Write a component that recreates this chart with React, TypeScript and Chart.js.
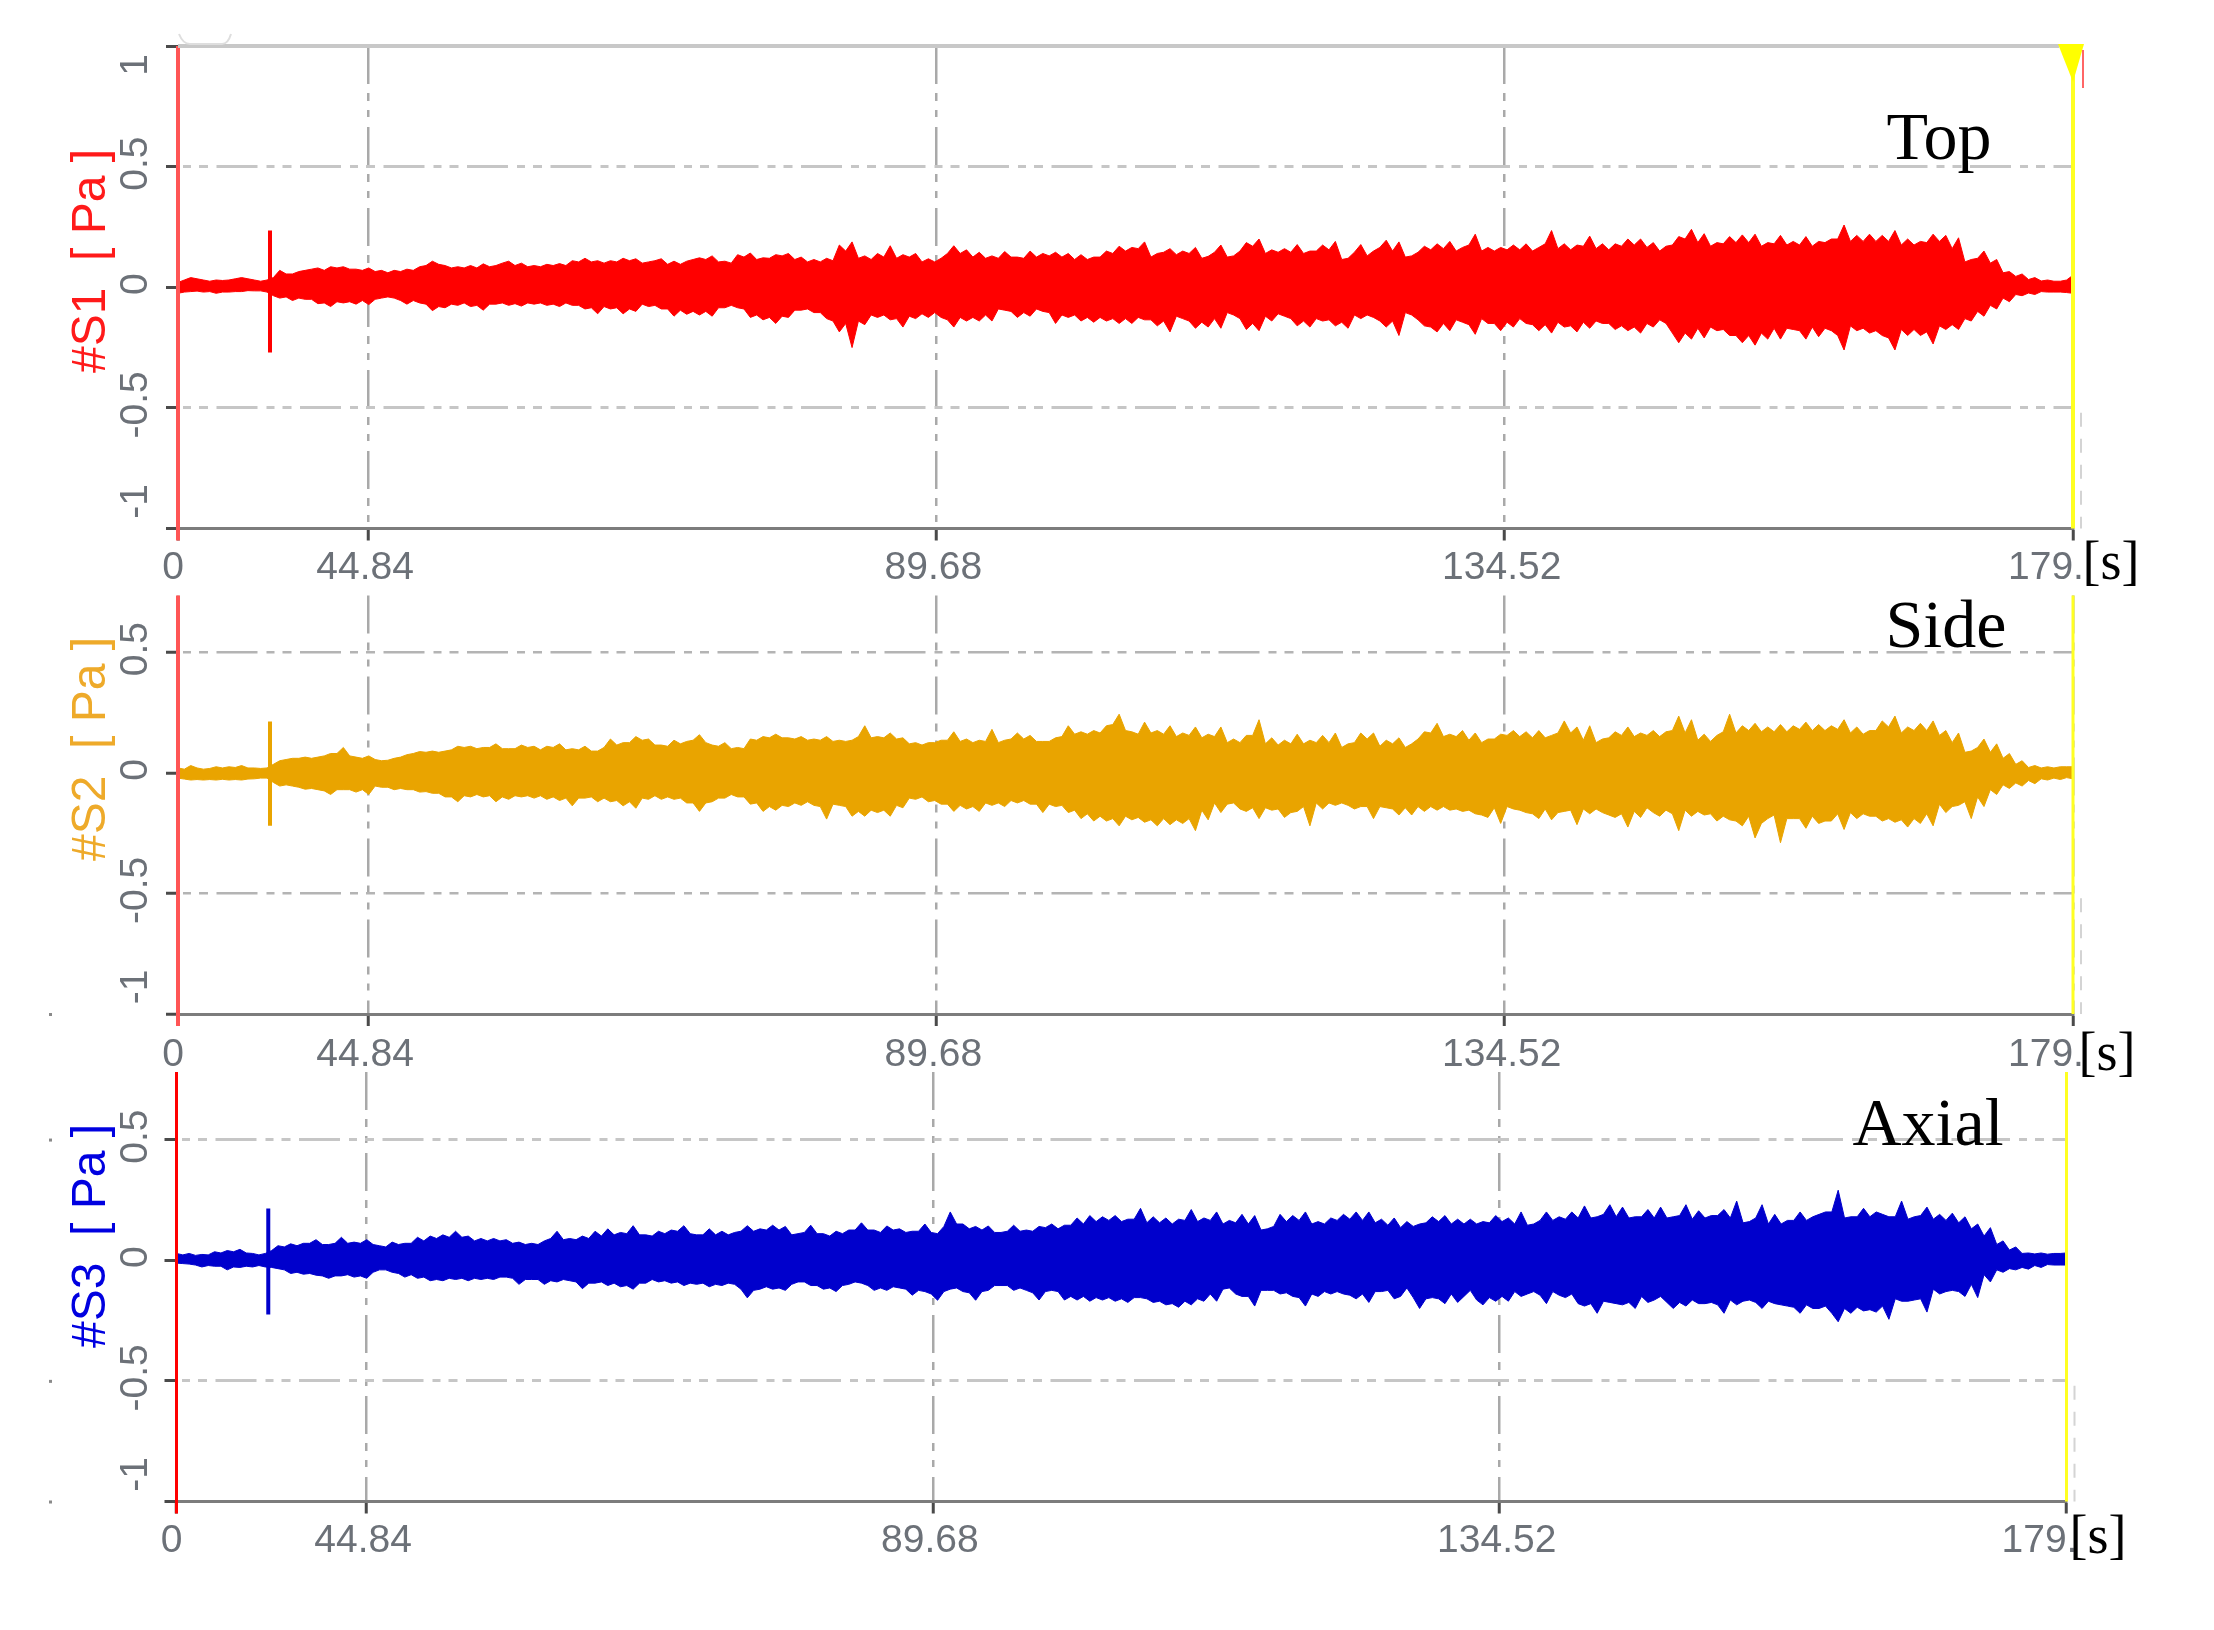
import React, { useEffect, useRef } from 'react';
import Chart from 'chart.js/auto';

// values: upper and lower envelope of each trace, one reading per sample step
const hiS1 = [
  .02, .04, .03, .03, .03, .04, .03, .03, .07, .055, .07, .08, .085, .085, .075, .08, .07, .07, .075, .085,
  .108, .09, .085, .09, .097, .09, .108, .1, .09, .095, .098, .11, .12, .11, .11, .12, .118, .105, .118, .108,
  .108, .122, .13, .108, .135, .142, .122, .135, .14, .125, .115, .12, .175, .188, .13, .14, .172, .135, .14, .118,
  .12, .172, .155, .145, .13, .148, .125, .15, .14, .145, .14, .135, .125, .15, .17,
  .165, .188, .14, .16, .15, .165, .128, .175, .13, .185, .2, .155, .16, .177, .15, .175, .19, .12, .177, .15,
  .195, .188, .13, .17, .18, .19, .165, .22, .165, .165, .175, .18, .165, .235, .18, .175, .212, .18, .18, .2,
  .2, .185, .17, .21, .24, .222, .185, .21, .217, .22, .185, .215, .19, .21, .19, .2, .258, .215, .22, .215,
  .235, .2, .19, .22, .215, .205, .115, .15, .115, .065, .055, .04, .03, .025, .05,
];
const loS1 = [
  -.025, -.018, -.02, -.025, -.02, -.018, -.015, -.02, -.045, -.055, -.05, -.068, -.08, -.065, -.07, -.072, -.045, -.045, -.07, -.065,
  -.097, -.085, -.075, -.08, -.095, -.07, -.075, -.078, -.07, -.075, -.08, -.075, -.09, -.11, -.09, -.11, -.1, -.08, -.09, -.12,
  -.112, -.115, -.12, -.085, -.085, -.125, -.135, -.15, -.125, -.095, -.105, -.13, -.185, -.25, -.155, -.125, -.135, -.165, -.13, -.125,
  -.125, -.165, -.14, -.14, -.14, -.095, -.125, -.12, -.1, -.15, -.125, -.14, -.145, -.14, -.15,
  -.15, -.135, -.16, -.185, -.13, -.17, -.165, -.17, -.115, -.175, -.18, -.14, -.12, -.16, -.165, -.14, -.16, -.17, -.13, -.125,
  -.165, -.2, -.115, -.16, -.185, -.18, -.145, -.195, -.15, -.18, -.165, -.15, -.18, -.19, -.165, -.185, -.17, -.15, -.175, -.18,
  -.19, -.165, -.15, -.23, -.215, -.21, -.18, -.2, -.23, -.24, -.215, -.215, -.175, -.215, -.205, -.18, -.26, -.18, -.19, -.2,
  -.26, -.2, -.2, -.235, -.175, -.175, -.14, -.12, -.09, -.06, -.035, -.03, -.02, -.02, -.025,
];
const hiS2 = [
  .02, .03, .015, .025, .025, .03, .02, .02, .05, .06, .065, .065, .08, .105, .065, .07, .05, .06, .075, .088,
  .09, .09, .11, .11, .105, .12, .1, .115, .11, .11, .12, .1, .11, .09, .14, .125, .15, .14, .115, .135,
  .13, .158, .115, .125, .105, .14, .15, .16, .145, .15, .14, .15, .135, .135, .195, .15, .165, .145, .125, .125,
  .135, .17, .14, .135, .18, .135, .165, .155, .13, .145, .195, .17, .175, .195, .243,
  .17, .21, .175, .195, .165, .19, .16, .19, .14, .155, .22, .145, .135, .16, .135, .155, .165, .12, .165, .165,
  .135, .145, .12, .17, .205, .16, .175, .165, .14, .16, .175, .17, .175, .155, .215, .19, .195, .14, .17, .19,
  .165, .175, .17, .235, .22, .16, .155, .243, .195, .205, .19, .2, .195, .21, .2, .195, .22, .19, .175, .215,
  .235, .19, .205, .215, .175, .165, .09, .14, .12, .08, .05, .03, .025, .025, .025,
];
const loS2 = [
  -.022, -.03, -.03, -.03, -.03, -.03, -.025, -.022, -.055, -.055, -.068, -.07, -.09, -.07, -.08, -.09, -.06, -.07, -.07, -.08,
  -.085, -.1, -.12, -.1, -.1, -.12, -.11, -.1, -.105, -.11, -.115, -.137, -.105, -.12, -.12, -.137, -.147, -.11, -.11, -.11,
  -.125, -.16, -.12, -.105, -.1, -.13, -.16, -.155, -.14, -.135, -.135, -.192, -.135, -.18, -.18, -.165, -.18, -.145, -.11, -.12,
  -.13, -.16, -.15, -.16, -.135, -.14, -.125, -.13, -.165, -.14, -.165, -.19, -.2, -.2, -.22,
  -.195, -.205, -.22, -.215, -.21, -.24, -.195, -.165, -.125, -.16, -.19, -.155, -.185, -.16, -.22, -.15, -.135, -.135, -.14, -.19,
  -.145, -.175, -.175, -.16, -.155, -.155, -.16, -.17, -.185, -.21, -.15, -.165, -.19, -.195, -.16, -.215, -.17, -.165, -.185, -.225,
  -.185, -.165, -.155, -.24, -.18, -.175, -.2, -.195, -.22, -.27, -.19, -.29, -.19, -.23, -.21, -.2, -.235, -.19, -.18, -.2,
  -.205, -.225, -.21, -.22, -.165, -.135, -.19, -.14, -.09, -.065, -.055, -.045, -.03, -.028, -.025,
];
const hiS3 = [
  .028, .028, .024, .035, .04, .045, .028, .028, .06, .068, .07, .085, .065, .095, .075, .085, .06, .075, .07, .095,
  .1, .105, .12, .1, .09, .09, .085, .075, .07, .08, .12, .09, .1, .12, .13, .115, .143, .105, .12, .125,
  .143, .105, .13, .12, .115, .143, .13, .145, .14, .11, .145, .11, .12, .125, .155, .125, .142, .13, .12, .15,
  .11, .2, .15, .14, .142, .115, .145, .125, .14, .15, .145, .175, .185, .18, .185,
  .17, .215, .18, .175, .17, .21, .175, .2, .165, .19, .185, .13, .19, .185, .2, .16, .175, .19, .2, .2,
  .17, .175, .16, .15, .18, .185, .17, .17, .16, .185, .175, .2, .15, .2, .18, .2, .225, .18, .23, .22,
  .18, .21, .22, .18, .23, .205, .185, .21, .245, .16, .23, .19, .165, .2, .18, .2, .29, .18, .215, .2,
  .18, .245, .18, .22, .19, .195, .18, .15, .135, .08, .055, .03, .03, .028, .03,
];
const loS3 = [
  -.012, -.016, -.028, -.025, -.04, -.03, -.028, -.028, -.035, -.055, -.058, -.062, -.075, -.065, -.07, -.075, -.04, -.05, -.07, -.075,
  -.085, -.085, -.08, -.085, -.08, -.08, -.07, -.1, -.08, -.1, -.09, -.085, -.118, -.095, -.105, -.11, -.12, -.095, -.09, -.095,
  -.105, -.1, -.11, -.105, -.1, -.156, -.12, -.12, -.125, -.09, -.105, -.12, -.13, -.1, -.095, -.125, -.125, -.115, -.145, -.13,
  -.166, -.12, -.13, -.166, -.125, -.105, -.125, -.125, -.165, -.125, -.165, -.165, -.17, -.165, -.17,
  -.175, -.155, -.175, -.185, -.195, -.185, -.17, -.17, -.115, -.15, -.19, -.125, -.14, -.15, -.19, -.15, -.14, -.14, -.16, -.175,
  -.13, -.16, -.115, -.2, -.155, -.18, -.175, -.125, -.185, -.17, -.17, -.15, -.13, -.18, -.145, -.14, -.19, -.22, -.175, -.185,
  -.2, -.175, -.15, -.2, -.19, -.18, -.175, -.22, -.185, -.165, -.2, -.18, -.19, -.22, -.2, -.19, -.255, -.22, -.21, -.215,
  -.245, -.17, -.165, -.215, -.14, -.125, -.15, -.155, -.09, -.05, -.04, -.037, -.03, -.02, -.02,
];

// readings half way between the samples above, where the envelope mostly dips
const hiS1Mid = [
  .03, .035, .025, .028, .035, .035, .025, .04, .055, .065, .075, .07, .08, .075, .07, .065, .06, .065, .07, .09,
  .095, .08, .08, .08, .085, .1, .09, .085, .085, .09, .09, .105, .105, .1, .105, .11, .1, .11, .095, .095,
  .115, .115, .105, .1, .125, .115, .12, .13, .115, .105, .105, .11, .15, .12, .115, .125, .12, .125, .105, .105,
  .14, .14, .125, .12, .12, .125, .12, .125, .13, .125, .115, .115, .125, .14,
  .15, .16, .125, .145, .135, .14, .12, .145, .125, .15, .17, .14, .145, .145, .14, .15, .155, .115, .145, .13,
  .165, .15, .125, .145, .155, .16, .15, .175, .15, .15, .155, .155, .15, .18, .16, .155, .17, .16, .155, .17,
  .175, .165, .15, .175, .2, .185, .17, .18, .185, .185, .17, .18, .175, .175, .17, .185, .2, .19, .19, .19,
  .19, .175, .175, .185, .19, .16, .105, .12, .1, .06, .045, .032, .026, .025, .03,
];
const loS1Mid = [
  -.02, -.016, -.018, -.02, -.018, -.014, -.015, -.035, -.04, -.045, -.05, -.065, -.06, -.06, -.055, -.05, -.04, -.055, -.055, -.07,
  -.08, -.07, -.065, -.075, -.07, -.065, -.068, -.065, -.065, -.07, -.065, -.075, -.085, -.08, -.085, -.09, -.07, -.075, -.09, -.095,
  -.1, -.1, -.085, -.075, -.09, -.115, -.125, -.12, -.095, -.09, -.105, -.14, -.15, -.14, -.115, -.115, -.13, -.12, -.11, -.105,
  -.135, -.125, -.125, -.115, -.09, -.1, -.105, -.09, -.105, -.115, -.115, -.125, -.125, -.13,
  -.13, -.125, -.135, -.14, -.12, -.14, -.145, -.13, -.105, -.13, -.15, -.12, -.11, -.13, -.14, -.13, -.135, -.145, -.115, -.115,
  -.14, -.14, -.105, -.135, -.165, -.15, -.135, -.155, -.13, -.15, -.145, -.13, -.155, -.155, -.145, -.16, -.145, -.14, -.15, -.16,
  -.165, -.15, -.135, -.19, -.19, -.17, -.165, -.175, -.2, -.2, -.19, -.17, -.17, -.18, -.165, -.17, -.2, -.16, -.17, -.18,
  -.21, -.175, -.175, -.185, -.16, -.155, -.13, -.1, -.075, -.045, -.03, -.024, -.018, -.02, -.022,
];
const hiS2Mid = [
  .015, .02, .018, .02, .022, .02, .018, .035, .055, .06, .06, .07, .08, .07, .06, .055, .052, .065, .08, .085,
  .085, .095, .105, .1, .105, .1, .1, .105, .095, .105, .095, .095, .09, .105, .115, .125, .135, .115, .11, .12,
  .135, .125, .11, .1, .1, .135, .145, .145, .14, .135, .135, .13, .13, .15, .145, .145, .14, .12, .115, .125,
  .135, .13, .125, .13, .125, .14, .14, .13, .13, .15, .16, .16, .165, .2,
  .175, .16, .165, .16, .15, .155, .145, .15, .125, .125, .155, .12, .115, .12, .12, .125, .125, .105, .125, .14,
  .11, .12, .105, .14, .165, .15, .15, .135, .125, .14, .155, .15, .145, .145, .165, .165, .135, .125, .145, .155,
  .15, .155, .15, .175, .165, .135, .13, .17, .165, .175, .17, .17, .17, .18, .175, .175, .18, .165, .16, .175,
  .19, .165, .175, .175, .155, .125, .085, .105, .085, .06, .035, .022, .02, .02, .025,
];
const loS2Mid = [
  -.026, -.028, -.028, -.027, -.028, -.026, -.022, -.04, -.05, -.06, -.065, -.075, -.07, -.07, -.07, -.055, -.06, -.065, -.07, -.078,
  -.085, -.1, -.095, -.09, -.095, -.1, -.095, -.095, -.095, -.1, -.105, -.105, -.1, -.105, -.115, -.12, -.105, -.095, -.1, -.105,
  -.125, -.125, -.105, -.09, -.1, -.125, -.14, -.135, -.125, -.12, -.14, -.13, -.14, -.16, -.155, -.155, -.135, -.105, -.1, -.115,
  -.13, -.135, -.14, -.125, -.125, -.115, -.115, -.13, -.13, -.135, -.155, -.17, -.18, -.19,
  -.18, -.185, -.195, -.19, -.195, -.19, -.155, -.125, -.13, -.15, -.145, -.145, -.15, -.165, -.14, -.125, -.125, -.125, -.15, -.14,
  -.14, -.15, -.145, -.14, -.14, -.14, -.15, -.155, -.175, -.145, -.14, -.155, -.17, -.15, -.165, -.155, -.15, -.15, -.175, -.17,
  -.16, -.145, -.18, -.17, -.155, -.16, -.17, -.18, -.2, -.18, -.21, -.175, -.19, -.19, -.18, -.2, -.17, -.165, -.17, -.18,
  -.19, -.195, -.19, -.17, -.13, -.14, -.12, -.1, -.07, -.05, -.042, -.032, -.025, -.022, -.02,
];
const hiS3Mid = [
  .022, .02, .022, .03, .035, .03, .022, .04, .055, .06, .07, .065, .07, .07, .07, .065, .055, .065, .07, .08,
  .09, .095, .095, .08, .08, .08, .07, .065, .065, .09, .085, .085, .09, .1, .105, .11, .105, .1, .11, .12,
  .11, .105, .105, .105, .12, .12, .125, .125, .105, .115, .11, .1, .11, .125, .125, .115, .125, .115, .12, .115,
  .14, .15, .13, .125, .115, .12, .12, .12, .135, .13, .145, .15, .16, .165,
  .16, .17, .155, .155, .15, .165, .16, .165, .15, .155, .15, .125, .14, .16, .165, .15, .15, .165, .17, .165,
  .155, .145, .135, .14, .155, .16, .15, .15, .15, .155, .16, .15, .145, .165, .165, .17, .175, .175, .19, .18,
  .175, .18, .175, .175, .185, .17, .175, .185, .175, .155, .175, .15, .15, .165, .165, .19, .2, .175, .18, .18,
  .19, .18, .17, .185, .17, .165, .155, .13, .1, .065, .042, .028, .026, .025, .028,
];
const loS3Mid = [
  -.014, -.02, -.022, -.025, -.028, -.025, -.022, -.03, -.04, -.05, -.055, -.065, -.065, -.06, -.065, -.05, -.04, -.055, -.06, -.07,
  -.08, -.075, -.075, -.075, -.075, -.07, -.075, -.08, -.08, -.085, -.08, -.09, -.095, -.09, -.095, -.105, -.095, -.08, -.085, -.09,
  -.095, -.095, -.1, -.095, -.12, -.125, -.11, -.115, -.1, -.09, -.105, -.115, -.105, -.09, -.105, -.115, -.11, -.12, -.125, -.14,
  -.13, -.115, -.135, -.13, -.105, -.105, -.115, -.135, -.13, -.13, -.15, -.15, -.155, -.155,
  -.16, -.155, -.16, -.17, -.18, -.17, -.16, -.14, -.12, -.14, -.15, -.125, -.125, -.135, -.155, -.14, -.13, -.13, -.145, -.14,
  -.13, -.125, -.15, -.155, -.16, -.16, -.14, -.15, -.165, -.155, -.15, -.13, -.14, -.145, -.13, -.155, -.18, -.18, -.17, -.18,
  -.175, -.15, -.165, -.175, -.175, -.165, -.18, -.185, -.165, -.17, -.175, -.17, -.185, -.195, -.185, -.2, -.22, -.2, -.195, -.205,
  -.19, -.16, -.17, -.16, -.12, -.13, -.13, -.1, -.06, -.04, -.035, -.03, -.022, -.018, -.02,
];

// short burst just after the start, same moment in all three traces
const burstTime = 37.1;
const burstS1 = [0.235, -0.27];
const burstS2 = [0.213, -0.22];
const burstS3 = [0.214, -0.225];

// the printed "0" sits closer to 44.84 than the tick spacing would give, so the axis starts here
const axisStart = 29.84;
const axisEnd = 179.36;
const timeTicks = [29.84, 44.84, 89.68, 134.52, 179.36];
const timeLabels = ['0', '44.84', '89.68', '134.52', '179.'];
const pressureTicks = [-1, -0.5, 0, 0.5, 1];
const pressureLabels = ['-1', '-0.5', '0', '0.5', '1'];

const W = 2214;
const H = 1630;
const Y_AXIS_W = 20;
const X_AXIS_H = 20;

const panels = [
  {
    title: '#S1  [ Pa ]', titleColor: '#ff1a1a', traceColor: '#ff0000', hi: hiS1, hiMid: hiS1Mid, lo: loS1, loMid: loS1Mid, burst: burstS1,
    left: 178, right: 2073, top: 46, bottom: 528.5, yMax: 1, labelGap: 40,
    note: 'Top', noteX: 1939, noteY: 159, unitX: 2111, unitY: 565, titleY: 261,
    cursorColor: '#ff5555', cursorWidth: 4, yellowWidth: 4, gridColor: '#c6c6c6', gridWidth: 3, marker: true, strayTicks: [] as number[],
  },
  {
    title: '#S2  [ Pa ]', titleColor: '#eeaa2a', traceColor: '#e9a400', hi: hiS2, hiMid: hiS2Mid, lo: loS2, loMid: loS2Mid, burst: burstS2,
    left: 178, right: 2073, top: 595.5, bottom: 1014, yMax: 0.735, labelGap: 41,
    note: 'Side', noteX: 1946, noteY: 647, unitX: 2107, unitY: 1056, titleY: 749,
    cursorColor: '#ff5555', cursorWidth: 4, yellowWidth: 3, gridColor: '#b4b4b4', gridWidth: 2.5, marker: false, strayTicks: [-1],
  },
  {
    title: '#S3  [ Pa ]', titleColor: '#0000e0', traceColor: '#0000cc', hi: hiS3, hiMid: hiS3Mid, lo: loS3, loMid: loS3Mid, burst: burstS3,
    left: 176.5, right: 2066.5, top: 1072, bottom: 1501.5, yMax: 0.78, labelGap: 40,
    note: 'Axial', noteX: 1928, noteY: 1145, unitX: 2098, unitY: 1539, titleY: 1236,
    cursorColor: '#ff0000', cursorWidth: 3, yellowWidth: 3, gridColor: '#c6c6c6', gridWidth: 3, marker: false, strayTicks: [0.5, -0.5, -1],
  },
];

// weave the sample readings and the half-way readings into one evenly spaced trace
const toPoints = (values: number[], mid: number[]) => {
  const woven = values.flatMap((v, i) => (i < mid.length ? [v, mid[i]] : [v]));
  const step = (axisEnd - axisStart) / (woven.length - 1);
  return woven.map((y, i) => ({ x: axisStart + i * step, y }));
};

const TICK_FONT = '39px "Liberation Sans"';
const TICK_COLOR = '#6c7178';

function rotatedText(ctx: CanvasRenderingContext2D, text: string, x: number, y: number) {
  ctx.save();
  ctx.translate(x, y);
  ctx.rotate(-Math.PI / 2);
  ctx.fillText(text, 0, 0);
  ctx.restore();
}

function buildDecorPlugin(p: typeof panels[number]) {
  return {
    id: 'panelDecor',
    afterDatasetsDraw(chart: any) {
      const { ctx, scales, chartArea } = chart;
      const { left, right, top, bottom } = chartArea;
      ctx.save();

      // measuring cursors at both ends
      ctx.setLineDash([]);
      ctx.strokeStyle = p.cursorColor;
      ctx.lineWidth = p.cursorWidth;
      ctx.beginPath();
      ctx.moveTo(left, top);
      ctx.lineTo(left, bottom + 12);
      ctx.stroke();
      ctx.strokeStyle = '#ffff22';
      ctx.lineWidth = p.yellowWidth;
      ctx.beginPath();
      ctx.moveTo(right, top);
      ctx.lineTo(right, bottom);
      ctx.stroke();

      // faint leftovers next to the right cursor
      ctx.strokeStyle = '#d4d4d4';
      ctx.lineWidth = 2;
      ctx.setLineDash([14, 12]);
      ctx.beginPath();
      ctx.moveTo(right + 8, scales.y.getPixelForValue(-0.52));
      ctx.lineTo(right + 8, bottom);
      ctx.stroke();
      ctx.setLineDash([]);

      // specks left over at the far left of the lower panels
      ctx.fillStyle = '#8a8a8a';
      p.strayTicks.forEach((value) => {
        ctx.fillRect(49, scales.y.getPixelForValue(value) - 1, 3, 3);
      });

      if (p.marker) {
        ctx.strokeStyle = '#c8c8c8';
        ctx.lineWidth = 4;
        ctx.beginPath();
        ctx.moveTo(left, top);
        ctx.lineTo(right - 14, top);
        ctx.stroke();
        ctx.fillStyle = '#ffff00';
        ctx.beginPath();
        ctx.moveTo(right - 15, top - 2);
        ctx.lineTo(right + 11, top - 2);
        ctx.lineTo(right, top + 36);
        ctx.closePath();
        ctx.fill();
        ctx.strokeStyle = '#ff6666';
        ctx.lineWidth = 2;
        ctx.beginPath();
        ctx.moveTo(right + 10, top + 4);
        ctx.lineTo(right + 10, top + 42);
        ctx.stroke();
        ctx.strokeStyle = '#dedede';
        ctx.lineWidth = 2;
        ctx.beginPath();
        ctx.moveTo(left + 1, top - 12);
        ctx.quadraticCurveTo(left + 5, top - 2, left + 12, top - 2);
        ctx.lineTo(left + 44, top - 2);
        ctx.quadraticCurveTo(left + 50, top - 2, left + 53, top - 12);
        ctx.stroke();
      }

      ctx.textAlign = 'center';
      ctx.textBaseline = 'middle';

      // axis numbers
      ctx.font = TICK_FONT;
      ctx.fillStyle = TICK_COLOR;
      pressureTicks.forEach((value, i) => {
        if (value > p.yMax) return;
        const nudge = value === 1 ? 19 : value === -1 ? -27 : -3;
        rotatedText(ctx, pressureLabels[i], 136, scales.y.getPixelForValue(value) + nudge);
      });
      timeTicks.forEach((value, i) => {
        const nudge = i === 0 ? -5 : i === timeTicks.length - 1 ? -27 : -3;
        ctx.fillText(timeLabels[i], scales.x.getPixelForValue(value) + nudge, bottom + p.labelGap);
      });

      // channel name
      ctx.font = '48px "Liberation Sans"';
      ctx.fillStyle = p.titleColor;
      rotatedText(ctx, p.title, 92, p.titleY);

      // pasted-in labels
      ctx.fillStyle = '#000000';
      ctx.font = '68px "Liberation Serif"';
      ctx.textBaseline = 'alphabetic';
      ctx.fillText(p.note, p.noteX, p.noteY);
      ctx.font = '54px "Liberation Serif"';
      ctx.textBaseline = 'middle';
      ctx.fillText('[s]', p.unitX, p.unitY);
      ctx.restore();
    },
  };
}

function TracePanel({ panel }: { panel: typeof panels[number] }) {
  const canvasRef = useRef<HTMLCanvasElement>(null);

  useEffect(() => {
    if (!canvasRef.current) return;
    const chart = new Chart(canvasRef.current, {
      type: 'line',
      data: {
        datasets: [
          {
            data: toPoints(panel.hi, panel.hiMid),
            borderColor: panel.traceColor,
            borderWidth: 1,
            pointRadius: 0,
            fill: false,
          },
          {
            data: toPoints(panel.lo, panel.loMid),
            borderColor: panel.traceColor,
            borderWidth: 1,
            pointRadius: 0,
            backgroundColor: panel.traceColor,
            fill: '-1',
          },
          {
            data: panel.burst.map((y) => ({ x: burstTime, y })),
            borderColor: panel.traceColor,
            borderWidth: 4,
            pointRadius: 0,
            fill: false,
          },
        ],
      },
      options: {
        responsive: false,
        animation: false,
        devicePixelRatio: 1,
        layout: {
          padding: {
            left: panel.left - Y_AXIS_W,
            right: W - panel.right,
            top: panel.top,
            bottom: H - panel.bottom - X_AXIS_H,
          },
        },
        plugins: {
          legend: { display: false },
          tooltip: { enabled: false },
        },
        scales: {
          x: {
            type: 'linear',
            min: axisStart,
            max: axisEnd,
            afterBuildTicks: (scale: any) => {
              scale.ticks = timeTicks.map((value) => ({ value }));
            },
            afterFit: (scale: any) => {
              scale.height = X_AXIS_H;
            },
            ticks: { display: false },
            border: { display: true, color: '#7c7c7c', width: 3, dash: [38, 9, 8, 9, 7, 10] },
            grid: {
              color: '#a9a9a9',
              lineWidth: 2.5,
              tickColor: '#4a4a4a',
              tickLength: 12,
              tickWidth: 3,
            },
          },
          y: {
            type: 'linear',
            min: -1,
            max: panel.yMax,
            afterBuildTicks: (scale: any) => {
              scale.ticks = pressureTicks.filter((v) => v <= panel.yMax).map((value) => ({ value }));
            },
            afterFit: (scale: any) => {
              scale.width = Y_AXIS_W;
            },
            ticks: { display: false },
            border: { display: false, dash: [41, 9, 8, 8, 9, 8.5], dashOffset: 45 },
            grid: {
              color: (c: any) => (Math.abs(c.tick?.value) === 1 ? 'rgba(0,0,0,0)' : panel.gridColor),
              lineWidth: panel.gridWidth,
              tickColor: '#4a4a4a',
              tickLength: 12,
              tickWidth: 3,
            },
          },
        },
      },
      plugins: [buildDecorPlugin(panel)],
    } as any);

    return () => chart.destroy();
  }, [panel]);

  return (
    <canvas
      ref={canvasRef}
      width={W}
      height={H}
      style={{ position: 'absolute', left: 0, top: 0, width: W, height: H }}
    />
  );
}

export default function App() {
  return (
    <div style={{ position: 'absolute', left: 0, top: 0, width: W, height: H, background: '#ffffff' }}>
      {panels.map((panel) => (
        <TracePanel key={panel.title} panel={panel} />
      ))}
    </div>
  );
}
